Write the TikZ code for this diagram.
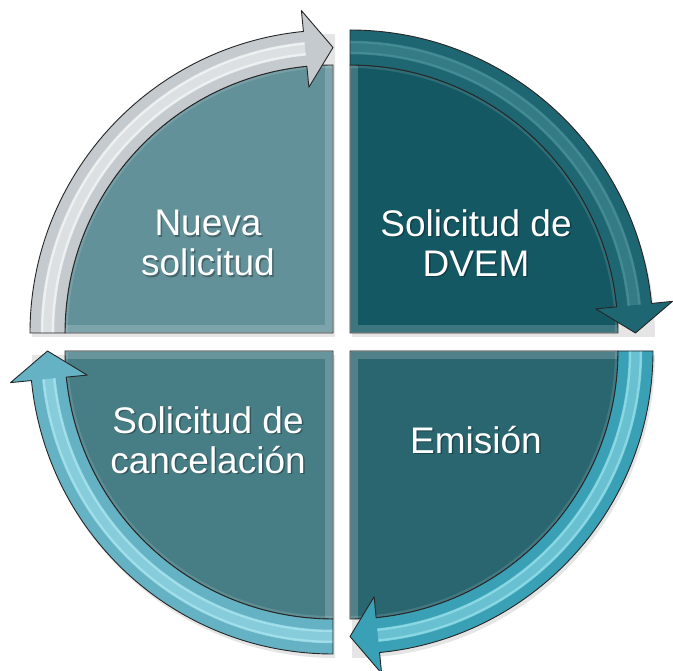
\documentclass[tikz,border=0pt]{standalone}
\usepackage{fontspec}
\setmainfont{Liberation Sans}
\definecolor{pieA}{RGB}{98,145,153}
\definecolor{arrA}{RGB}{196,202,206}
\definecolor{strA}{RGB}{245,247,248}
\definecolor{pieB}{RGB}{20,88,100}
\definecolor{arrB}{RGB}{30,102,114}
\definecolor{strB}{RGB}{75,145,155}
\definecolor{pieC}{RGB}{42,102,112}
\definecolor{arrC}{RGB}{58,160,181}
\definecolor{strC}{RGB}{150,225,236}
\definecolor{pieD}{RGB}{71,125,133}
\definecolor{arrD}{RGB}{100,178,196}
\definecolor{strD}{RGB}{170,230,240}
\tikzset{
  lbl/.style={text=white,align=center,font=\fontsize{37}{40}\selectfont,inner sep=0pt},
  lblshadow/.style={text=black,opacity=0.3,align=center,font=\fontsize{37}{40}\selectfont,inner sep=0pt},
  outline/.style={draw=black!85,line width=0.9pt,line join=round},
}
\newcommand\qpart[6]{%
 \begin{scope}[shift={#1}]
  \pgfmathsetmacro\aone{#2-90}
  \pgfmathsetmacro\ab{#2-90+5.6}
  % soft shadow
  \fill[black,opacity=0.10,shift={(2,-4)}] (0,0) -- (#2:303) arc[start angle=#2,end angle=\aone,radius=303] -- cycle;
  % pie
  \fill[#3] (0,0) -- (#2:268) arc[start angle=#2,end angle=\aone,radius=268] -- cycle;
  \begin{scope}
   \clip (0,0) -- (#2:268) arc[start angle=#2,end angle=\aone,radius=268] -- cycle;
   \draw[white,opacity=0.18,line width=16pt] (#2:268) -- (0,0) -- (\aone:268);
   \draw[white,opacity=0.35,line width=2.5pt] (#2:268) -- (0,0) -- (\aone:268);
   \draw[white,opacity=0.12,line width=6pt] (#2:268) arc[start angle=#2,end angle=\aone,radius=268];
  \end{scope}
  \draw[outline] (0,0) -- (#2:268) arc[start angle=#2,end angle=\aone,radius=268] -- cycle;
  % arrow
  \path[fill=#4] (#2:268) -- (#2:303) arc[start angle=#2,end angle=\ab,radius=303] -- (\ab:324) -- (\aone:285.5) -- (\ab:247) -- (\ab:268) arc[start angle=\ab,end angle=#2,radius=268] -- cycle;
  \begin{scope}
   \clip (#2:268) -- (#2:303) arc[start angle=#2,end angle=\ab,radius=303] -- (\ab:324) -- (\aone:285.5) -- (\ab:247) -- (\ab:268) arc[start angle=\ab,end angle=#2,radius=268] -- cycle;
   \draw[#5,opacity=0.5,line width=12pt] (#2:285.5) arc[start angle=#2,end angle=\ab,radius=285.5];
   \draw[#5,opacity=0.75,line width=2.5pt] (#2:280) arc[start angle=#2,end angle=\ab,radius=280];
   \draw[#5,opacity=0.75,line width=2.5pt] (#2:291) arc[start angle=#2,end angle=\ab,radius=291];
  \end{scope}
  \draw[outline] (#2:268) -- (#2:303) arc[start angle=#2,end angle=\ab,radius=303] -- (\ab:324) -- (\aone:285.5) -- (\ab:247) -- (\ab:268) arc[start angle=\ab,end angle=#2,radius=268] -- cycle;
 \end{scope}}
\begin{document}
\begin{tikzpicture}[x=1pt,y=1pt]
\useasboundingbox (0,0) rectangle (673,671);
\fill[white] (0,0) rectangle (673,671);
\qpart{(333,338)}{180}{pieA}{arrA}{strA}{tl}
\qpart{(350,338)}{90}{pieB}{arrB}{strB}{tr}
\qpart{(350,320)}{0}{pieC}{arrC}{strC}{br}
\qpart{(333,320)}{-90}{pieD}{arrD}{strD}{bl}
\node[lblshadow] (nuevas) at (209.5,426.5) {Nueva\\solicitud};
\node[lbl] (nueva) at (208,428) {Nueva\\solicitud};
\node[lblshadow] (dvems) at (477.5,426.5) {Solicitud de\\DVEM};
\node[lbl] (dvem) at (476,428) {Solicitud de\\DVEM};
\node[lblshadow] (emisions) at (477.5,229.5) {Emisión};
\node[lbl] (emision) at (476,231) {Emisión};
\node[lblshadow] (cancels) at (209.5,229.5) {Solicitud de\\cancelación};
\node[lbl] (cancel) at (208,231) {Solicitud de\\cancelación};
\end{tikzpicture}
\end{document}
